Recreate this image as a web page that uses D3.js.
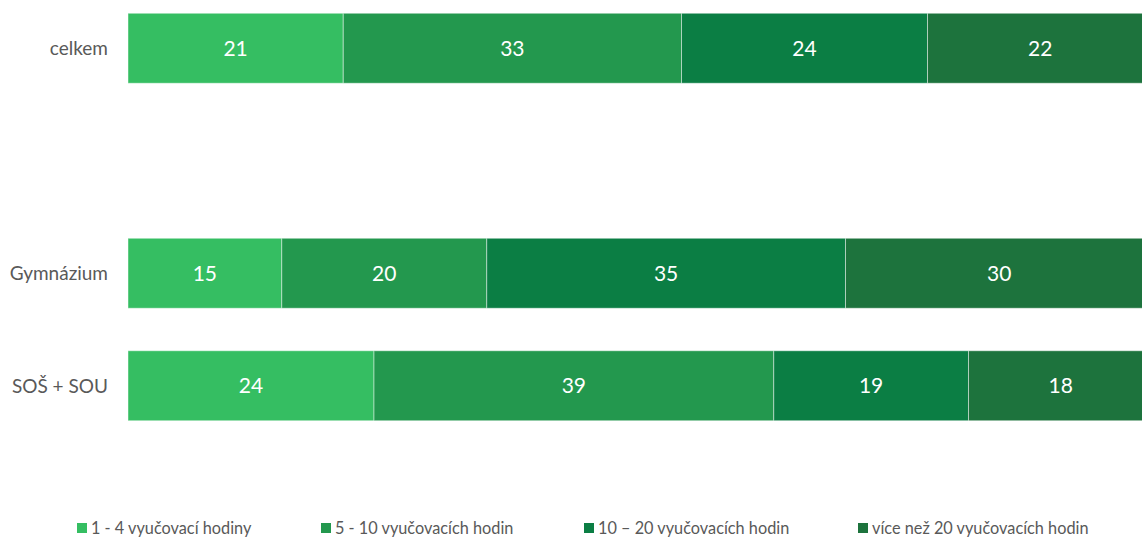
<!DOCTYPE html>
<html>
<head>
<meta charset="utf-8">
<script src="https://cdn.jsdelivr.net/npm/d3@7"></script>
<style>
  body { margin: 0; background: #fff; }
  svg { display: block; font-family: Lato, 'Open Sans', sans-serif; }
</style>
</head>
<body>
<div id="chart"></div>
<script>
(function () {
  'use strict';

  var categories = ['celkem', '', 'Gymnázium', 'SOŠ + SOU'];
  var seriesNames = ['1 - 4 vyučovací hodiny', '5 - 10 vyučovacích hodin', '10 – 20 vyučovacích hodin', 'více než 20 vyučovacích hodin'];
  var seriesColors = ['#35be62', '#23984e', '#0b7e44', '#1d733d'];
  var values = [
    [21, 33, 24, 22],
    null,
    [15, 20, 35, 30],
    [24, 39, 19, 18]
  ];
  var legendX = [77, 321, 584, 858];

  var width = 1142, height = 537;
  var margin = { top: 0, left: 128 };

  var x = d3.scaleLinear().domain([0, 100]).range([margin.left, 1153]);
  var y = d3.scaleBand().domain(categories).range([-8, 442]).paddingInner(0.378).paddingOuter(0.189);

  var svg = d3.select('#chart').append('svg').attr('width', width).attr('height', height);

  var rows = categories.map(function (c, i) {
    if (!values[i]) return null;
    var acc = 0;
    return values[i].map(function (v, j) {
      var seg = { cat: c, s: j, v: v, x0: acc, x1: acc + v };
      acc += v;
      return seg;
    });
  }).filter(Boolean);

  var g = svg.append('g');
  rows.forEach(function (row) {
    var rg = g.append('g');
    rg.selectAll('rect').data(row).enter().append('rect')
      .attr('x', function (d) { return x(d.x0); })
      .attr('width', function (d) { return x(d.x1) - x(d.x0); })
      .attr('y', function (d) { return y(d.cat); })
      .attr('height', y.bandwidth())
      .attr('fill', function (d) { return seriesColors[d.s]; })
      .attr('stroke', 'rgba(255,255,255,0.45)').attr('stroke-width', 1);
    rg.selectAll('text').data(row).enter().append('text')
      .attr('x', function (d) { return (x(d.x0) + x(d.x1)) / 2; })
      .attr('y', function (d) { return y(d.cat) + y.bandwidth() / 2; })
      .attr('dy', '0.36em').attr('text-anchor', 'middle')
      .attr('fill', '#fff').attr('font-size', 21)
      .text(function (d) { return d.v; });
  });

  // Category labels
  svg.append('g').selectAll('text').data(categories.filter(function (c) { return c; })).enter().append('text')
    .attr('x', 108)
    .attr('y', function (d) { return y(d) + y.bandwidth() / 2; })
    .attr('dy', '0.36em').attr('text-anchor', 'end')
    .attr('fill', '#595959').attr('font-size', 19)
    .text(function (d) { return d; });

  // Legend
  var lg = svg.append('g').selectAll('g').data(seriesNames).enter().append('g')
    .attr('transform', function (d, i) { return 'translate(' + legendX[i] + ',528)'; });
  lg.append('rect').attr('x', 0).attr('y', -5).attr('width', 10).attr('height', 10)
    .attr('fill', function (d, i) { return seriesColors[i]; });
  lg.append('text').attr('x', 14).attr('dy', '0.36em')
    .attr('fill', '#595959').attr('font-size', 16.3)
    .text(function (d) { return d; });
})();
</script>
</body>
</html>
